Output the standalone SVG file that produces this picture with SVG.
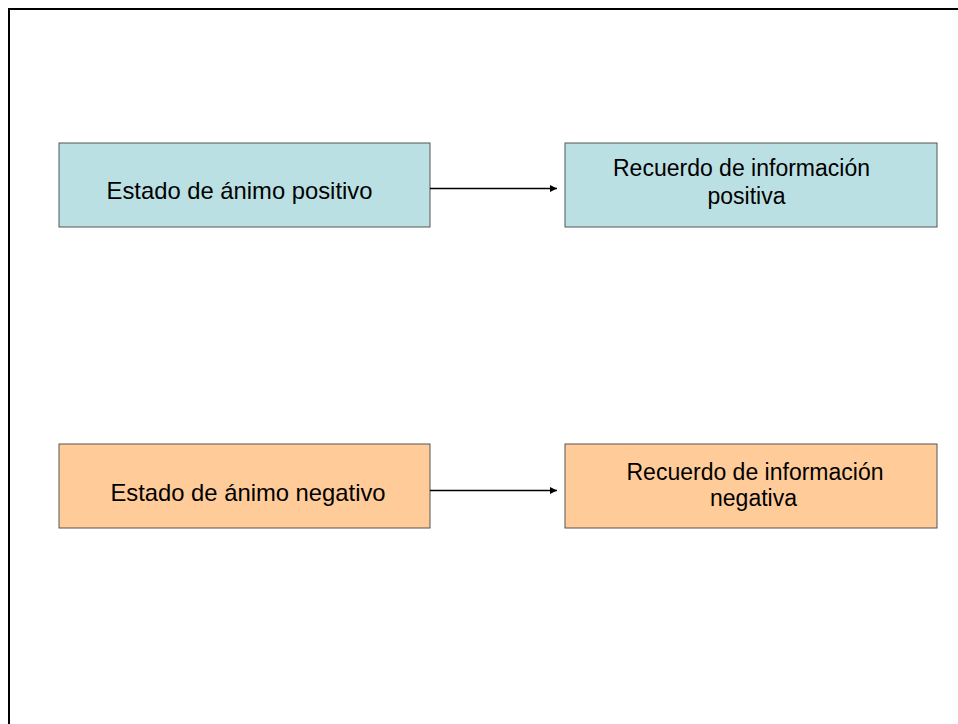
<svg xmlns="http://www.w3.org/2000/svg" width="958" height="724" viewBox="0 0 958 724">
<style>
.t{font-family:"Liberation Sans",Arial,sans-serif;font-size:23px;fill:#000;text-anchor:middle}
.l{font-size:23.8px}
.pos{fill:#BBE0E3;stroke:#555;stroke-width:1}
.neg{fill:#FFCC99;stroke:#555;stroke-width:1}
.c{stroke:#000;stroke-width:1.3;fill:none;marker-end:url(#ah)}
</style>
<defs>
<marker id="ah" markerWidth="8" markerHeight="8" refX="7" refY="3.5" orient="auto" markerUnits="userSpaceOnUse">
<path d="M0,0 L7,3.5 L0,7 Z" fill="#000"/>
</marker>
</defs>
<rect width="958" height="724" fill="#fff"/>
<path d="M9,724 V9 H958" stroke="#000" stroke-width="2" fill="none"/>
<g id="n1"><rect class="pos" x="59" y="143" width="371" height="84"/><text class="t l" x="239.5" y="199">Estado de ánimo positivo</text></g>
<g id="n2"><rect class="pos" x="565" y="143" width="372" height="84"/><text class="t" x="741.5" y="176">Recuerdo de información</text><text class="t" x="746.5" y="204">positiva</text></g>
<g id="n3"><rect class="neg" x="59" y="444" width="371" height="84"/><text class="t l" x="248" y="501">Estado de ánimo negativo</text></g>
<g id="n4"><rect class="neg" x="565" y="444" width="372" height="84"/><text class="t" x="755" y="480">Recuerdo de información</text><text class="t" x="753.5" y="506">negativa</text></g>
<g id="connectors">
<line class="c" x1="430" y1="188.5" x2="557" y2="188.5"/>
<line class="c" x1="430" y1="490.5" x2="557" y2="490.5"/>
</g>
</svg>
